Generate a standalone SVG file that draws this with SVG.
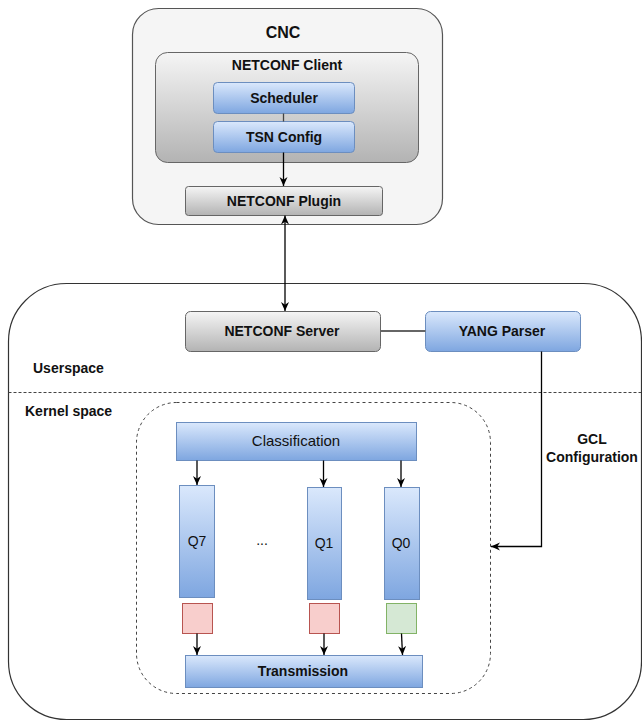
<svg xmlns="http://www.w3.org/2000/svg" width="642" height="721" viewBox="0 0 642 721">
  <defs>
    <linearGradient id="gGray" x1="0" y1="0" x2="0" y2="1">
      <stop offset="0" stop-color="#f5f5f5"/>
      <stop offset="1" stop-color="#b3b3b3"/>
    </linearGradient>
    <linearGradient id="gBlue" x1="0" y1="0" x2="0" y2="1">
      <stop offset="0" stop-color="#dae8fc"/>
      <stop offset="1" stop-color="#7ea6e0"/>
    </linearGradient>
    <marker id="arr" viewBox="0 0 9 9" markerWidth="9" markerHeight="9" refX="9" refY="4.5" orient="auto-start-reverse" markerUnits="userSpaceOnUse">
      <path d="M0,0.5 L9,4.5 L0,8.5 L2.8,4.5 z" fill="#000"/>
    </marker>
    <style>
      .t { font-family: "Liberation Sans", Arial, sans-serif; fill: #111; text-anchor: middle; }
      .b { font-weight: bold; font-size: 14px; }
      .r { font-size: 14px; }
      .gray { fill: url(#gGray); stroke: #666; stroke-width: 1; }
      .blue { fill: url(#gBlue); stroke: #6c8ebf; stroke-width: 1; }
      .red { fill: #f8cecc; stroke: #b85450; stroke-width: 1; }
      .green { fill: #d5e8d4; stroke: #82b366; stroke-width: 1; }
      .conn { fill: none; stroke: #000; stroke-width: 1.3; }
    </style>
  </defs>

  <!-- containers -->
  <g id="lowerbox">
    <rect x="8.5" y="283.5" width="633" height="436" rx="58" fill="#fff" stroke="#333" stroke-width="1.2"/>
    <line x1="8.5" y1="392.5" x2="641" y2="392.5" stroke="#444" stroke-dasharray="3,2"/>
    <text class="t b" x="33" y="373" style="text-anchor:start">Userspace</text>
    <text class="t b" x="25" y="416" style="text-anchor:start">Kernel space</text>
  </g>

  <g id="cnc">
    <rect x="132.5" y="8.5" width="310" height="216" rx="26" fill="#f5f5f5" stroke="#555" stroke-width="1.2"/>
    <text class="t" x="283" y="38" font-size="16" font-weight="bold">CNC</text>
  </g>

  <g id="netconf-client">
    <rect class="gray" x="155.5" y="52.5" width="263" height="110" rx="12"/>
    <text class="t b" x="287" y="70">NETCONF Client</text>
  </g>

  <g id="scheduler">
    <rect class="blue" x="213.5" y="82.5" width="141" height="31" rx="4"/>
    <text class="t b" x="284" y="103">Scheduler</text>
  </g>

  <g id="tsn-config">
    <rect class="blue" x="213.5" y="121.5" width="141" height="31" rx="4"/>
    <text class="t b" x="284" y="142">TSN Config</text>
  </g>

  <g id="netconf-plugin">
    <rect class="gray" x="185.5" y="186.5" width="197" height="29" rx="3"/>
    <text class="t b" x="284" y="206">NETCONF Plugin</text>
  </g>

  <g id="netconf-server">
    <rect class="gray" x="185.5" y="311.5" width="195" height="40" rx="5"/>
    <text class="t b" x="282" y="336">NETCONF Server</text>
  </g>

  <g id="yang-parser">
    <rect class="blue" x="425.5" y="311.5" width="155" height="40" rx="5"/>
    <text class="t b" x="502" y="336">YANG Parser</text>
  </g>

  <g id="kernel-box">
    <rect x="136.5" y="402.5" width="354" height="291" rx="40" fill="none" stroke="#444" stroke-dasharray="3,3"/>
  </g>

  <g id="classification">
    <rect class="blue" x="176.5" y="422.5" width="240" height="38"/>
    <text class="t" x="296" y="446" font-size="15">Classification</text>
  </g>

  <g id="q7">
    <rect class="blue" x="179.5" y="485.5" width="35" height="112"/>
    <text class="t r" x="197" y="546">Q7</text>
  </g>
  <g id="ellipsis">
    <text class="t r" x="262" y="545">...</text>
  </g>
  <g id="q1">
    <rect class="blue" x="307.5" y="487.5" width="34" height="112"/>
    <text class="t r" x="324" y="548">Q1</text>
  </g>
  <g id="q0">
    <rect class="blue" x="384.5" y="487.5" width="35" height="112"/>
    <text class="t r" x="401" y="548">Q0</text>
  </g>

  <g id="gate7"><rect class="red" x="182.5" y="603.5" width="30" height="30"/></g>
  <g id="gate1"><rect class="red" x="309.5" y="603.5" width="30" height="30"/></g>
  <g id="gate0"><rect class="green" x="386.5" y="603.5" width="30" height="30"/></g>

  <g id="transmission">
    <rect class="blue" x="185.5" y="655.5" width="237" height="32"/>
    <text class="t b" x="303" y="676">Transmission</text>
  </g>

  <g id="gcl-label">
    <text class="t b" x="592" y="444">GCL</text>
    <text class="t b" x="592" y="462">Configuration</text>
  </g>

  <g id="connectors">
    <line class="conn" x1="283.5" y1="113.5" x2="283.5" y2="121.5" style="stroke:#444"/>
    <line class="conn" x1="283.5" y1="152.5" x2="283.5" y2="186" marker-end="url(#arr)"/>
    <line class="conn" x1="285" y1="215.5" x2="285" y2="311" marker-start="url(#arr)" marker-end="url(#arr)"/>
    <line x1="380.5" y1="331" x2="425.5" y2="331" stroke="#666" stroke-width="2"/>
    <path class="conn" d="M541.5,351.5 V546.5 H491" marker-end="url(#arr)"/>
    <line class="conn" x1="197" y1="460.5" x2="197" y2="485" marker-end="url(#arr)"/>
    <line class="conn" x1="323.5" y1="460.5" x2="323.5" y2="487" marker-end="url(#arr)"/>
    <line class="conn" x1="401" y1="460.5" x2="401" y2="487" marker-end="url(#arr)"/>
    <line class="conn" x1="197" y1="633.5" x2="197" y2="655" marker-end="url(#arr)"/>
    <line class="conn" x1="324" y1="633.5" x2="324" y2="655" marker-end="url(#arr)"/>
    <line class="conn" x1="401.5" y1="633.5" x2="402.5" y2="655" marker-end="url(#arr)"/>
  </g>
</svg>
